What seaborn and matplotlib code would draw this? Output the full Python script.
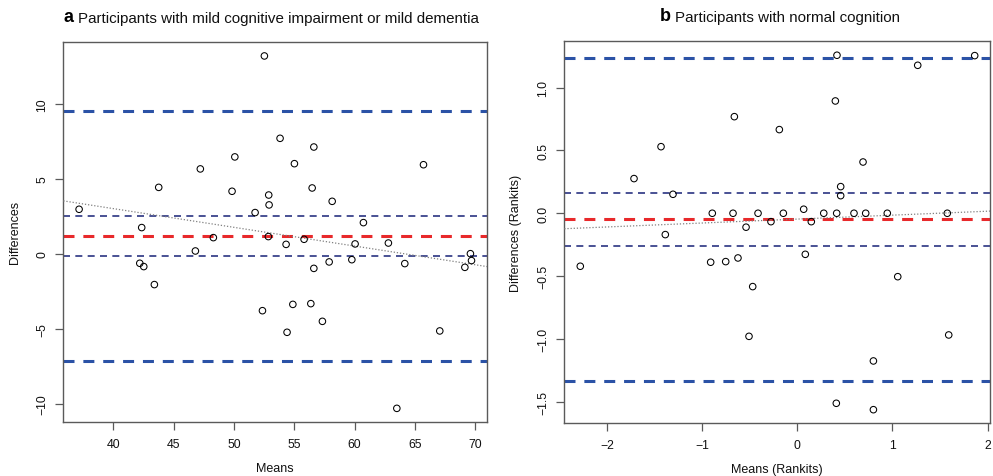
import matplotlib
matplotlib.use("Agg")
import matplotlib.pyplot as plt
import seaborn as sns
import numpy as np
import pandas as pd

# ---------------- data ----------------
mci_means = [52.52, 53.82, 56.62, 50.07, 55.01, 65.71, 47.21, 43.76, 49.84, 56.48,
             52.88, 52.91, 58.14, 37.16, 51.75, 60.73, 42.35, 48.29, 52.85, 55.81,
             54.32, 60.04, 62.80, 46.80, 42.19, 42.52, 43.40, 69.60, 69.69, 69.14,
             57.89, 59.77, 64.16, 56.62, 52.36, 54.88, 56.37, 57.33, 54.40, 67.06,
             63.50]
mci_diffs = [13.20, 7.71, 7.13, 6.47, 6.02, 5.95, 5.67, 4.44, 4.18, 4.40,
             3.93, 3.27, 3.51, 2.98, 2.76, 2.09, 1.76, 1.09, 1.16, 0.98,
             0.64, 0.67, 0.73, 0.20, -0.62, -0.84, -2.04, 0.02, -0.44, -0.89,
             -0.53, -0.38, -0.64, -0.96, -3.78, -3.36, -3.31, -4.49, -5.22, -5.13,
             -10.29]
mci_bias = 1.18
mci_loa = [-7.15, 9.51]
mci_ci = [-0.16, 2.51]

nc_means = [0.417, 1.865, 1.266, 0.400, -0.662, -0.189, -1.433, 0.691, -1.717, 0.456,
            0.456, -1.307, -0.894, -0.676, -0.413, -0.147, 0.278, 0.414, 0.596, 0.719,
            0.946, 1.577, 0.067, -0.277, 0.147, -0.539, -1.388, -2.282, -0.911, -0.753,
            -0.624, 0.084, -0.469, 1.056, -0.508, 1.592, 0.800, 0.410, 0.800]
nc_diffs = [1.258, 1.255, 1.178, 0.894, 0.769, 0.666, 0.530, 0.408, 0.276, 0.212,
            0.140, 0.151, 0.0, 0.0, 0.0, 0.0, 0.0, 0.0, 0.0, 0.0,
            0.0, 0.0, 0.032, -0.067, -0.067, -0.111, -0.170, -0.422, -0.390, -0.385,
            -0.356, -0.327, -0.584, -0.505, -0.980, -0.969, -1.176, -1.513, -1.564]
nc_bias = -0.045
nc_loa = [-1.333, 1.234]
nc_ci = [-0.258, 0.164]

mci_xticks = [40, 45, 50, 55, 60, 65, 70]
mci_yticks = [-10, -5, 0, 5, 10]
nc_xticks = [-2, -1, 0, 1, 2]
nc_yticks = [-1.5, -1.0, -0.5, 0.0, 0.5, 1.0]

titles_letter = ["a", "b"]
titles_text = ["Participants with mild cognitive impairment or mild dementia",
               "Participants with normal cognition"]
xlabels = ["Means", "Means (Rankits)"]
ylabels = ["Differences", "Differences (Rankits)"]

# ---------------- style ----------------
sns.set_theme(style="ticks")
plt.rcParams["font.family"] = ["Liberation Sans", "DejaVu Sans"]
plt.rcParams["axes.unicode_minus"] = True

LOA_COLOR = "#2b52a6"
CI_COLOR = "#2a3382"
BIAS_COLOR = "#e8292b"
FRAME = "#5a5a5a"

fig = plt.figure(figsize=(9.93, 4.77), dpi=100)
ax1 = fig.add_axes([63.3 / 993, 1 - 422.7 / 477, (487.3 - 63.3) / 993, (422.7 - 42.7) / 477])
ax2 = fig.add_axes([564.3 / 993, 1 - 424.0 / 477, (990.0 - 564.3) / 993, (424.0 - 42.3) / 477])

panels = [
    (ax1, mci_means, mci_diffs, mci_bias, mci_loa, mci_ci, mci_xticks, mci_yticks,
     (35.85, 71.0), (-11.18, 14.15), 0.5075),
    (ax2, nc_means, nc_diffs, nc_bias, nc_loa, nc_ci, nc_xticks, nc_yticks,
     (-2.45, 2.026), (-1.67, 1.369), 0.525),
]

for i, (ax, xs, ys, bias, loa, ci, xt, yt, xl, yl, tx) in enumerate(panels):
    df = pd.DataFrame({"m": xs, "d": ys})
    ax.set_xlim(*xl)
    ax.set_ylim(*yl)

    # limits of agreement
    for v in loa:
        ax.axhline(v, color=LOA_COLOR, lw=2.2, linestyle=(0, (3.6, 2.9)), zorder=2)
    # confidence interval of bias
    for v in ci:
        ax.axhline(v, color=CI_COLOR, lw=1.2, linestyle=(0, (4.2, 3.2)), zorder=2)
    # bias
    ax.axhline(bias, color=BIAS_COLOR, lw=2.2, linestyle=(0, (3.6, 2.9)), zorder=2)

    # regression (dotted)
    sns.regplot(data=df, x="m", y="d", ax=ax, scatter=False, ci=None, truncate=False,
                line_kws=dict(color="#808080", lw=0.9, linestyle=(0, (1, 1.5)), zorder=3))

    sns.scatterplot(data=df, x="m", y="d", ax=ax, marker="o", s=22,
                    facecolors="none", edgecolors="black", linewidth=0.75, zorder=4)

    ax.set_xlim(*xl)
    ax.set_ylim(*yl)
    ax.set_xticks(xt)
    ax.set_yticks(yt)
    if i == 0:
        ax.set_yticklabels([f"{v:g}".replace("-", "\u2212") for v in yt])
    else:
        ax.set_yticklabels([f"{v:.1f}".replace("-", "\u2212") for v in yt])
    ax.set_xticklabels([f"{v:g}".replace("-", "\u2212") for v in xt])

    for s in ax.spines.values():
        s.set_visible(True)
        s.set_color(FRAME)
        s.set_linewidth(1.0)
    ax.tick_params(axis="both", direction="out", length=5.8, width=0.9, color=FRAME,
                   labelsize=8.8, labelcolor="#111111")
    ax.tick_params(axis="x", pad=6.0)
    ax.tick_params(axis="y", pad=5.0, labelrotation=90)
    for lab in ax.get_yticklabels():
        lab.set_verticalalignment("center")

    ax.set_xlabel(xlabels[i], fontsize=9.0, labelpad=8.5, color="#111111")
    ax.set_ylabel(ylabels[i], fontsize=9.0, labelpad=11, color="#111111")

    t = ax.annotate(titles_text[i], xy=(tx, 1.0), xycoords="axes fraction",
                    xytext=(0, 14.4), textcoords="offset points",
                    ha="center", va="baseline", fontsize=10.9, color="#111111")
    ax.annotate(titles_letter[i], xy=(0, 0), xycoords=t,
                xytext=(-3.5, 0), textcoords="offset points",
                ha="right", va="bottom", fontsize=13, fontweight="bold", color="black")

fig.savefig("out.png", dpi=100)
